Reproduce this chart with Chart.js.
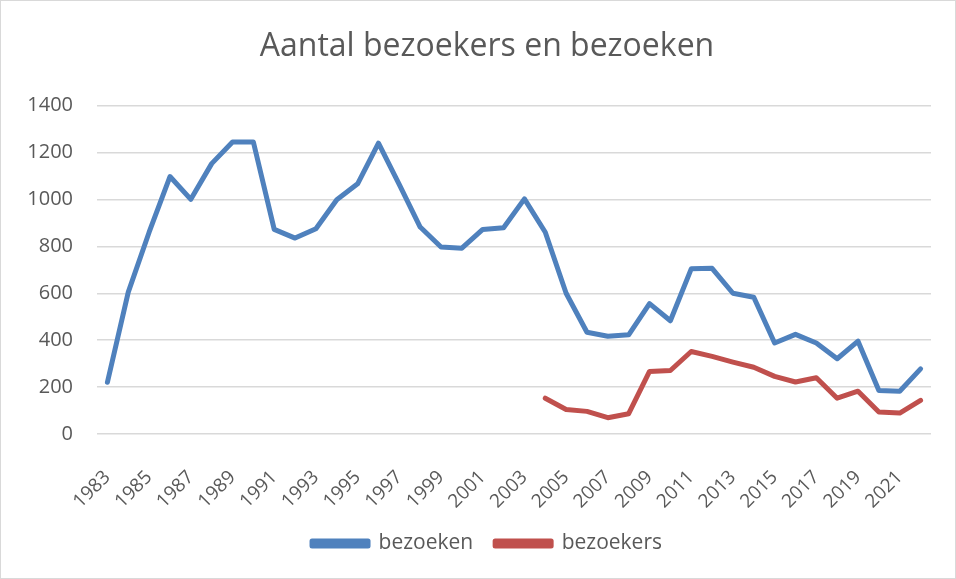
<!DOCTYPE html>
<html>
<head>
<meta charset="utf-8">
<script src="https://cdn.jsdelivr.net/npm/chart.js@4"></script>
<style>
  html, body { margin: 0; padding: 0; background: #fff; }
  #wrap { width: 954px; height: 577px; border: 1px solid #d9d9d9; }
</style>
</head>
<body>
<div id="wrap"><canvas id="chart" width="954" height="577"></canvas></div>
<script>
const years = [
    "1983", "1984", "1985", "1986", "1987", "1988", "1989", "1990", "1991", "1992",
    "1993", "1994", "1995", "1996", "1997", "1998", "1999", "2000", "2001", "2002",
    "2003", "2004", "2005", "2006", "2007", "2008", "2009", "2010", "2011", "2012",
    "2013", "2014", "2015", "2016", "2017", "2018", "2019", "2020", "2021", "2022"
];

const bezoeken = [
    221, 605, 860, 1097, 1000, 1152, 1244, 1244, 872, 835,
    875, 998, 1066, 1239, 1063, 882, 797, 792, 872, 879,
    1002, 860, 600, 434, 417, 423, 556, 483, 704, 706,
    600, 583, 388, 425, 388, 321, 396, 186, 183, 278
];

const bezoekers = [
    null, null, null, null, null, null, null, null, null, null,
    null, null, null, null, null, null, null, null, null, null,
    null, 153, 105, 97, 70, 87, 267, 271, 352, 331,
    307, 285, 246, 222, 240, 153, 183, 94, 90, 144
];

const yTicks = [0, 200, 400, 600, 800, 1000, 1200, 1400];

const textColor = "#595959";
const fontFamily = "'Open Sans', 'Liberation Sans', sans-serif";

// title and legend sit a bit right of the plot centre, like the Excel original
const shiftTitleLegend = {
    id: "shiftTitleLegend",
    afterLayout(chart) {
        [chart.titleBlock, chart.legend].forEach(box => {
            if (box) {
                box.left += 11;
                box.right += 11;
            }
        });
    },
};

const ctx = document.getElementById("chart");

const config = {
    type: "line",
    data: {
        labels: years,
        datasets: [
            {
                label: "bezoeken",
                data: bezoeken,
                borderColor: "#4f81bd",
                backgroundColor: "#4f81bd",
                borderWidth: 5,
                pointRadius: 0,
                tension: 0,
                borderJoinStyle: "round",
                borderCapStyle: "round",
            },
            {
                label: "bezoekers",
                data: bezoekers,
                borderColor: "#c0504d",
                backgroundColor: "#c0504d",
                borderWidth: 5,
                pointRadius: 0,
                tension: 0,
                borderJoinStyle: "round",
                borderCapStyle: "round",
            },
        ],
    },
    options: {
        responsive: false,
        animation: false,
        layout: {
            padding: { left: 20, right: 24, top: 6, bottom: 14 },
        },
        plugins: {
            title: {
                display: true,
                text: "Aantal bezoekers en bezoeken",
                color: textColor,
                font: { family: fontFamily, size: 32, weight: "normal" },
                padding: { top: 21, bottom: 39 },
            },
            legend: {
                position: "bottom",
                labels: {
                    color: textColor,
                    font: { family: fontFamily, size: 21 },
                    boxWidth: 56,
                    boxHeight: 5,
                    padding: 22,
                },
            },
            tooltip: { enabled: false },
        },
        scales: {
            x: {
                offset: true,
                grid: { display: false },
                border: { display: false },
                ticks: {
                    color: textColor,
                    font: { family: fontFamily, size: 19 },
                    autoSkip: false,
                    maxRotation: 45,
                    minRotation: 45,
                    padding: 24,
                    callback: function (value, index) {
                        return index % 2 === 0 ? years[index] : "";
                    },
                },
                afterFit: function (axis) {
                    axis.paddingLeft = 0;
                    axis.paddingRight = 0;
                    axis.height = axis.height - 26;
                },
            },
            y: {
                min: 0,
                max: 1400,
                afterBuildTicks: function (axis) {
                    axis.ticks = yTicks.map(v => ({ value: v }));
                },
                afterFit: function (axis) {
                    axis.width = 76;
                },
                grid: { color: "#d9d9d9", lineWidth: 1.5, drawTicks: false },
                border: { display: false },
                ticks: {
                    color: textColor,
                    font: { family: fontFamily, size: 20 },
                    padding: 24,
                    callback: function (value) {
                        return String(value);
                    },
                },
            },
        },
    },
    plugins: [shiftTitleLegend],
};

new Chart(ctx, config);
</script>
</body>
</html>
